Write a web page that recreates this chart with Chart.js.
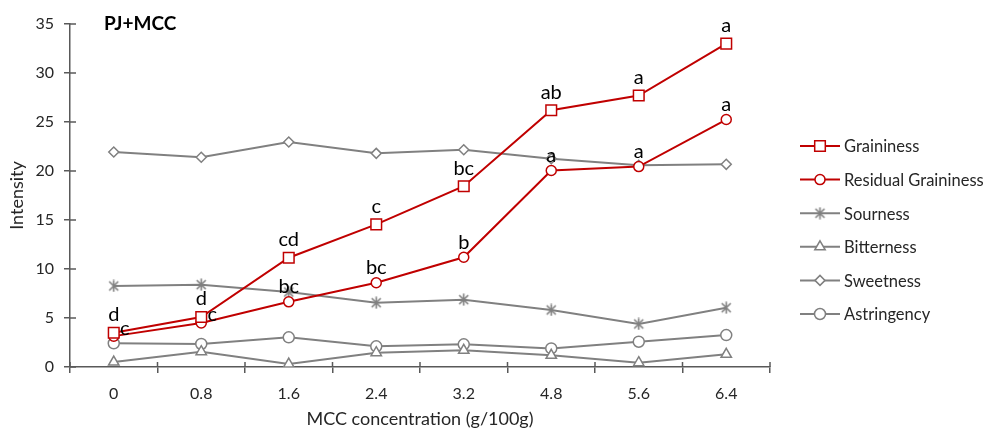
<!DOCTYPE html>
<html>
<head>
<meta charset="utf-8">
<script src="https://cdn.jsdelivr.net/npm/chart.js@4"></script>
<style>
  html, body { margin: 0; padding: 0; background: #fff; }
  #wrap { width: 988px; height: 430px; position: relative; }
</style>
</head>
<body>
<div id="wrap"><canvas id="chart"></canvas></div>
<script>
// categorias (MCC g/100g)
const concentrations = ['0', '0.8', '1.6', '2.4', '3.2', '4.8', '5.6', '6.4'];

// valores
const graininess = [3.5, 5.1, 11.15, 14.55, 18.45, 26.2, 27.7, 33.0];
const residualGraininess = [3.15, 4.5, 6.65, 8.6, 11.2, 20.05, 20.45, 25.25];
const sourness = [8.27, 8.4, 7.65, 6.56, 6.87, 5.82, 4.39, 6.05];
const bitterness = [0.5, 1.56, 0.3, 1.46, 1.7, 1.19, 0.44, 1.29];
const sweetness = [21.94, 21.4, 22.96, 21.8, 22.17, 21.26, 20.58, 20.68];
const astringency = [2.42, 2.35, 3.03, 2.11, 2.31, 1.9, 2.58, 3.26];

// letras de significância
const graininessLetters = ['d', 'd', 'cd', 'c', 'bc', 'ab', 'a', 'a'];
const residualLetters = ['c', 'c', 'bc', 'bc', 'b', 'a', 'a', 'a'];

const yTicks = [0, 5, 10, 15, 20, 25, 30, 35];

const RED = '#C00000';
const GRAY = '#808080';
const AXIS = '#595959';
const TEXT = '#262626';
const FONT = 'Lato, "Open Sans", sans-serif';

// asterisco de 6 braços (X + vertical), como no Excel
function asteriskMarker(color) {
    const c = document.createElement('canvas');
    c.width = 13; c.height = 13;
    const g = c.getContext('2d');
    g.strokeStyle = color;
    g.lineWidth = 1.6;
    g.beginPath();
    g.moveTo(2, 2); g.lineTo(11, 11);
    g.moveTo(11, 2); g.lineTo(2, 11);
    g.moveTo(6.5, 0.5); g.lineTo(6.5, 12.5);
    g.stroke();
    return c;
}

function series(label, data, color, style, radius) {
    return {
        label: label,
        data: data,
        borderColor: color,
        backgroundColor: '#fff',
        borderWidth: 2,
        pointStyle: style,
        pointRadius: radius,
        pointBorderColor: color,
        pointBackgroundColor: '#fff',
        pointBorderWidth: 1.5,
        tension: 0
    };
}

const datasets = [
    series('Graininess', graininess, RED, 'rect', 7.5),
    series('Residual Graininess', residualGraininess, RED, 'circle', 5),
    series('Sourness', sourness, GRAY, asteriskMarker(GRAY), 6),
    series('Bitterness', bitterness, GRAY, 'triangle', 6),
    series('Sweetness', sweetness, GRAY, 'rectRot', 5),
    series('Astringency', astringency, GRAY, 'circle', 5.5)
];

// ticks que atravessam os eixos (parte interior)
const innerTicks = {
    id: 'innerTicks',
    afterDraw(chart) {
        const ctx = chart.ctx;
        const x = chart.scales.x;
        const y = chart.scales.y;
        const area = chart.chartArea;
        ctx.save();
        ctx.strokeStyle = AXIS;
        ctx.lineWidth = 1.5;
        ctx.beginPath();
        y.ticks.forEach((t, i) => {
            const py = y.getPixelForTick(i);
            ctx.moveTo(area.left, py);
            ctx.lineTo(area.left + 6, py);
        });
        for (let i = 0; i <= x.ticks.length; i++) {
            const px = x.left + (x.width / x.ticks.length) * i;
            ctx.moveTo(px, area.bottom);
            ctx.lineTo(px, area.bottom - 5);
        }
        ctx.stroke();
        ctx.restore();
    }
};

// letras por cima dos pontos
const letterLabels = {
    id: 'letterLabels',
    afterDatasetsDraw(chart) {
        const ctx = chart.ctx;
        ctx.save();
        ctx.font = '20px ' + FONT;
        ctx.fillStyle = '#000';
        ctx.textAlign = 'center';
        ctx.textBaseline = 'middle';
        const sets = [[0, graininessLetters], [1, residualLetters]];
        sets.forEach(([dsIndex, letters]) => {
            const meta = chart.getDatasetMeta(dsIndex);
            meta.data.forEach((pt, i) => {
                let dx = 0, dy = dsIndex === 0 ? -18 : -15;
                if (dsIndex === 1 && i < 2) { dx = 11; dy = -8; }
                ctx.fillText(letters[i], pt.x + dx, pt.y + dy);
            });
        });
        ctx.restore();
    }
};

// legenda desenhada à direita (linha + marcador)
const sideLegend = {
    id: 'sideLegend',
    afterDraw(chart) {
        const ctx = chart.ctx;
        const x0 = 800, x1 = 840, top = 146, step = 33.6;
        ctx.save();
        ctx.font = '16.5px ' + FONT;
        ctx.textBaseline = 'middle';
        ctx.textAlign = 'left';
        chart.data.datasets.forEach((ds, i) => {
            const y = top + step * i;
            ctx.strokeStyle = ds.borderColor;
            ctx.lineWidth = 2;
            ctx.beginPath();
            ctx.moveTo(x0, y);
            ctx.lineTo(x1, y);
            ctx.stroke();
            ctx.fillStyle = '#fff';
            ctx.strokeStyle = ds.borderColor;
            ctx.lineWidth = 1.5;
            Chart.helpers.drawPoint(ctx, { pointStyle: ds.pointStyle, radius: ds.pointRadius, borderWidth: 1.5 }, (x0 + x1) / 2, y);
            ctx.fillStyle = TEXT;
            ctx.fillText(ds.label, x1 + 4, y + 1);
        });
        ctx.restore();
    }
};

// título do painel
const panelTitle = {
    id: 'panelTitle',
    afterDraw(chart) {
        const ctx = chart.ctx;
        ctx.save();
        ctx.font = 'bold 19px ' + FONT;
        ctx.fillStyle = '#000';
        ctx.textBaseline = 'middle';
        ctx.fillText('PJ+MCC', 104, 24);
        ctx.restore();
    }
};

new Chart(document.getElementById('chart'), {
    type: 'line',
    data: { labels: concentrations, datasets: datasets },
    options: {
        responsive: true,
        maintainAspectRatio: false,
        animation: false,
        layout: { padding: { left: 0, right: 218, top: 24, bottom: 0 } },
        plugins: {
            legend: { display: false },
            tooltip: { enabled: false }
        },
        scales: {
            x: {
                type: 'category',
                offset: true,
                grid: {
                    offset: true,
                    drawOnChartArea: false,
                    color: AXIS,
                    lineWidth: 1.5,
                    tickLength: 6
                },
                border: { color: AXIS, width: 1.5 },
                ticks: {
                    color: TEXT,
                    font: { family: FONT, size: 16 },
                    padding: 11,
                    maxRotation: 0
                },
                title: {
                    display: true,
                    text: 'MCC concentration (g/100g)',
                    color: TEXT,
                    font: { family: FONT, size: 18 },
                    padding: { top: 2, bottom: 0 }
                },
                afterFit(scale) { scale.height = 63; }
            },
            y: {
                min: 0,
                max: 35,
                afterBuildTicks(scale) { scale.ticks = yTicks.map(v => ({ value: v })); },
                grid: {
                    drawOnChartArea: false,
                    color: AXIS,
                    lineWidth: 1.5,
                    tickLength: 6
                },
                border: { color: AXIS, width: 1.5 },
                ticks: {
                    color: TEXT,
                    font: { family: FONT, size: 16 },
                    padding: 10
                },
                title: {
                    display: true,
                    text: 'Intensity',
                    color: TEXT,
                    font: { family: FONT, size: 18 },
                    padding: { top: 6, bottom: 0 }
                },
                afterFit(scale) { scale.width = 70; }
            }
        }
    },
    plugins: [innerTicks, letterLabels, sideLegend, panelTitle]
});
</script>
</body>
</html>
